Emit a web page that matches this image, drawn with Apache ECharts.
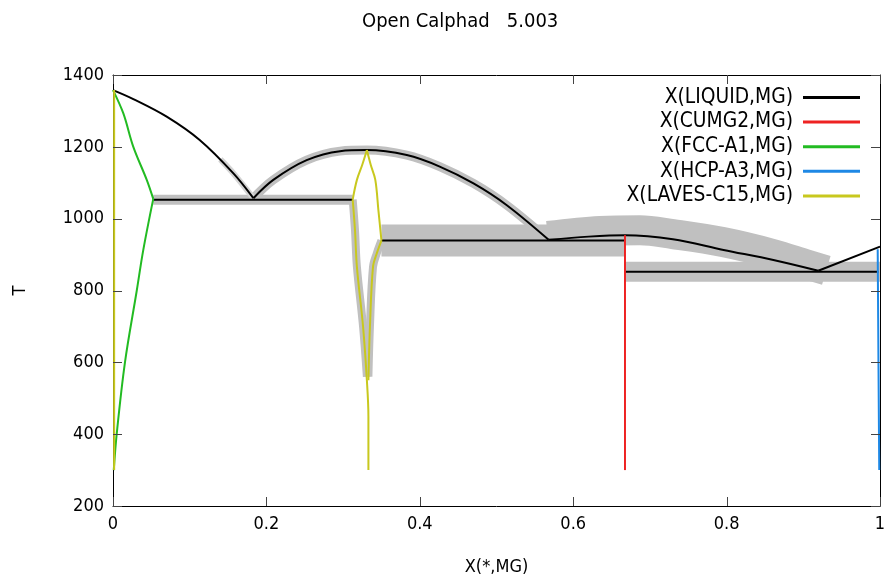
<!DOCTYPE html>
<html>
<head>
<meta charset="utf-8">
<script src="https://cdn.jsdelivr.net/npm/echarts@6/dist/echarts.min.js"></script>
<style>
html,body{margin:0;padding:0;background:#fff;}
#chart{width:887px;height:577px;}
</style>
</head>
<body>
<div id="chart"></div>
<script>
// ---- data (x = mole fraction Mg, T in K) ----
var xTicks = [0, 0.2, 0.4, 0.6, 0.8, 1];
var yTicks = [200, 400, 600, 800, 1000, 1200, 1400];
var legendNames = ['X(LIQUID,MG)', 'X(CUMG2,MG)', 'X(FCC-A1,MG)', 'X(HCP-A3,MG)', 'X(LAVES-C15,MG)'];

var liquidCuSide = [[0,1358],[0.0265,1333],[0.070,1284],[0.113,1219],[0.157,1126],[0.183,1057]];
var liquidLaves = [[0.183,1057],[0.209,1108],[0.2525,1163],[0.296,1188],[0.331,1191],[0.383,1177],[0.426,1145],[0.470,1098],[0.513,1038],[0.568,941]];
var liquidCuMg2 = [[0.568,941],[0.620,950],[0.6675,954],[0.730,943],[0.796,913],[0.861,885],[0.9195,855]];
var liquidMgSide = [[0.9195,855],[1.0,922]];
var tie1053 = [[0.0525,1053],[0.3125,1053]];
var tie938 = [[0.350,939],[0.6675,939]];
var tie852 = [[0.6675,852],[0.998,852]];

var cumg2 = [[0.6675,300],[0.6675,954]];
var fccLiquidus = [[0,1358],[0.0135,1293],[0.0265,1200],[0.044,1108],[0.0525,1055]];
var fccSolvus = [[0.0525,1055],[0.0395,913],[0.031,800],[0.0156,600],[0.0048,400],[0.001,300]];
var hcp = [[0.999,300],[0.998,600],[0.997,915]];
var lavesCuEdge = [[0.0015,300],[0.0015,1358]];
var lavesLeftLow = [[0.333,300],[0.333,450],[0.331,550],[0.326,700],[0.318,866],[0.3155,968],[0.3125,1053]];
var lavesLeftHigh = [[0.3125,1053],[0.318,1108],[0.325,1150],[0.331,1191]];
var lavesRightHigh = [[0.331,1191],[0.336,1150],[0.342,1108],[0.346,1024],[0.350,939]];
var lavesRightLow = [[0.350,939],[0.344,904],[0.339,866],[0.335,700],[0.333,550]];

// grey highlight bands
var band1053 = [[0.0525,1053],[0.3125,1053]];
var bandLavesArc = liquidLaves;
var bandCuSide = [[0.140,1165],[0.157,1126],[0.183,1057]];
var bandSpikeL = [[0.331,560],[0.326,700],[0.318,866],[0.3155,968],[0.3125,1053]];
var bandSpikeR = [[0.350,939],[0.344,904],[0.339,866],[0.335,700],[0.333,560]];
var band938 = [[0.350,939],[0.6675,939]];
var bandCuMg2Arc = [[0.567,952],[0.635,966],[0.687,968],[0.730,957],[0.795,935],[0.860,902],[0.905,872],[0.930,856]];
var band852 = [[0.6675,852],[1.0,852]];

var FONT = '"DejaVu Sans Condensed","DejaVu Sans",sans-serif';
var BLACK = '#000000', RED = '#ee2222', GREEN = '#22bb22', BLUE = '#1e88e5', YELLOW = '#c8c81e', GREY = '#c0c0c0';
var XMIN = 0, XMAX = 1, YMIN = 200, YMAX = 1400;

function greySeries(data, width, smooth, color) {
  return {type:'line', data:data, symbol:'none', silent:true, z:1, smooth:smooth || false,
    lineStyle:{color:color || GREY, width:width, cap:'butt', join:'round'}, emphasis:{disabled:true}};
}
function mainSeries(name, data, color, smooth) {
  return {name:name, type:'line', data:data, symbol:'none', showSymbol:false, z:3, smooth:smooth || false,
    itemStyle:{color:color}, lineStyle:{color:color, width:2}, emphasis:{disabled:true}};
}

// mirrored inward tick marks (gnuplot style), positioned through the axis scales
var tickData = [];
xTicks.forEach(function(v){ tickData.push([v, YMIN, 0]); });
yTicks.forEach(function(v){ tickData.push([XMIN, v, 1]); });
var TICK_LEN = 9;
var tickSeries = {
  type:'custom', data:tickData, silent:true, z:6, clip:false,
  encode:{x:0, y:1},
  renderItem:function(params, api){
    var kind = api.value(2);
    var st = {stroke:'#444', lineWidth:1};
    if (kind === 0) {
      var xv = api.value(0);
      var pb = api.coord([xv, YMIN]), pt = api.coord([xv, YMAX]);
      var x = Math.round(pb[0]) + 0.5;
      return {type:'group', children:[
        {type:'line', shape:{x1:x, y1:pb[1], x2:x, y2:pb[1]-TICK_LEN}, style:st},
        {type:'line', shape:{x1:x, y1:pt[1], x2:x, y2:pt[1]+TICK_LEN}, style:st}
      ]};
    } else {
      var yv = api.value(1);
      var pl = api.coord([XMIN, yv]), pr = api.coord([XMAX, yv]);
      var y = Math.round(pl[1]) + 0.5;
      return {type:'group', children:[
        {type:'line', shape:{x1:pl[0], y1:y, x2:pl[0]+TICK_LEN, y2:y}, style:st},
        {type:'line', shape:{x1:pr[0], y1:y, x2:pr[0]-TICK_LEN, y2:y}, style:st}
      ]};
    }
  }
};

var S = 0.35;
var series = [
  greySeries(band938, 32),
  greySeries(bandCuMg2Arc, 30, S),
  greySeries(band852, 20),
  greySeries(band1053, 10),
  greySeries(bandLavesArc, 9, S),
  greySeries(bandCuSide, 6, S, '#d4d4d4'),
  greySeries(bandSpikeL, 8, S),
  greySeries(bandSpikeR, 8, S),
  mainSeries(legendNames[0], liquidCuSide, BLACK, S),
  mainSeries(legendNames[0], liquidLaves, BLACK, S),
  mainSeries(legendNames[0], liquidCuMg2, BLACK, S),
  mainSeries(legendNames[0], liquidMgSide, BLACK),
  mainSeries(legendNames[0], tie1053, BLACK),
  mainSeries(legendNames[0], tie938, BLACK),
  mainSeries(legendNames[0], tie852, BLACK),
  mainSeries(legendNames[1], cumg2, RED),
  mainSeries(legendNames[2], fccLiquidus, GREEN, S),
  mainSeries(legendNames[2], fccSolvus, GREEN, S),
  mainSeries(legendNames[3], hcp, BLUE, S),
  mainSeries(legendNames[4], lavesCuEdge, YELLOW),
  mainSeries(legendNames[4], lavesLeftLow, YELLOW, S),
  mainSeries(legendNames[4], lavesLeftHigh, YELLOW, S),
  mainSeries(legendNames[4], lavesRightHigh, YELLOW, S),
  mainSeries(legendNames[4], lavesRightLow, YELLOW, S),
  tickSeries,
  {type:'line', data:[[0.5,800]], xAxisIndex:1, yAxisIndex:1, silent:true, symbol:'none', lineStyle:{opacity:0}}
];

function makeX(pos, withLabels) {
  var a = {type:'value', gridIndex:0, min:XMIN, max:XMAX, interval:0.2, position:pos, show:true,
    axisLine:{show:true, onZero:false, lineStyle:{color:'#000', width:1}},
    axisTick:{show:false}, splitLine:{show:false}, axisLabel:{show:false}};
  if (withLabels) {
    a.name = 'X(*,MG)'; a.nameLocation = 'middle'; a.nameGap = 52;
    a.nameTextStyle = {fontFamily:FONT, fontSize:18, color:'#000'};
    a.axisLabel = {show:true, fontFamily:FONT, fontSize:18, color:'#000', margin:9,
      formatter:function(v){ var i = xTicks.indexOf(+v.toFixed(1)); return i>=0 ? String(xTicks[i]) : ''; }};
  }
  return a;
}
function makeY(pos, withLabels) {
  var a = {type:'value', gridIndex:0, min:YMIN, max:YMAX, interval:200, position:pos, show:true,
    axisLine:{show:true, onZero:false, lineStyle:{color:'#000', width:1}},
    axisTick:{show:false}, splitLine:{show:false}, axisLabel:{show:false}};
  if (withLabels) {
    a.name = 'T'; a.nameLocation = 'middle'; a.nameGap = 84;
    a.nameTextStyle = {fontFamily:FONT, fontSize:18, color:'#000'};
    a.axisLabel = {show:true, fontFamily:FONT, fontSize:18, color:'#000', margin:9,
      formatter:function(v){ return yTicks.indexOf(v)>=0 ? String(v) : ''; }};
  }
  return a;
}

var option = {
  animation:false,
  backgroundColor:'#fff',
  title:{text:'Open Calphad   5.003', left:357, top:7,
    textStyle:{fontFamily:FONT, fontSize:20, fontWeight:'normal', color:'#000'}},
  legend:{data:legendNames, orient:'vertical', right:22, top:82, align:'right',
    icon:'rect', itemWidth:57, itemHeight:3, itemGap:3.6, selectedMode:false,
    textStyle:{fontFamily:FONT, fontSize:20.8, lineHeight:20, color:'#000', padding:[0,5,0,0]}},
  grid:{left:113, right:7, top:75, bottom:71, show:false, containLabel:false, outerBoundsMode:'none'},
  xAxis:[makeX('bottom', true), makeX('top', false)],
  yAxis:[makeY('left', true), makeY('right', false)],
  series:series
};

var chart = echarts.init(document.getElementById('chart'), null, {renderer:'canvas'});
chart.setOption(option);
</script>
</body>
</html>
